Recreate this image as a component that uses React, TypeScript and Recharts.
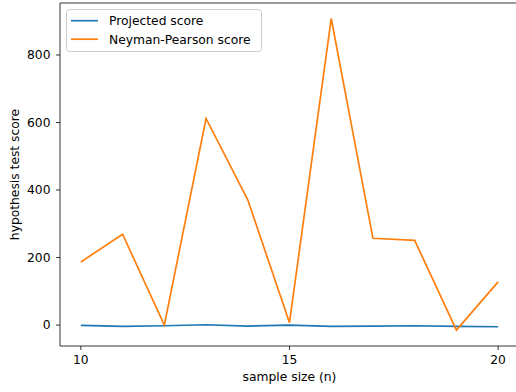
import React from 'react';
import { LineChart, Line, XAxis, YAxis, Legend, ReferenceArea, Label } from 'recharts';

const sampleSizes = [10, 11, 12, 13, 14, 15, 16, 17, 18, 19, 20];
const projectedScore = [-1, -4, -2, 1, -3, 0, -4, -3, -2, -4, -5];
const neymanPearsonScore = [187, 269, 0, 612, 371, 7, 908, 257, 251, -15, 128];
const xTicks = [10, 15, 20];
const yTicks = [0, 200, 400, 600, 800];
const xDomain: [number, number] = [9.5, 20.5];
const yDomain: [number, number] = [-62, 954];

const data = sampleSizes.map((n, i) => ({
  n,
  projected: projectedScore[i],
  neyman: neymanPearsonScore[i],
}));

const FONT = '"DejaVu Sans", sans-serif';
const FS = 12.3;
const BLUE = '#1f77b4';
const ORANGE = '#ff7f0e';

const legendItems = [
  { name: 'Projected score', color: BLUE },
  { name: 'Neyman-Pearson score', color: ORANGE },
];

const LegendBox = () => (
  <svg width={196} height={43} style={{ display: 'block' }}>
    <rect x={0.5} y={0.5} width={195} height={42} rx={3} ry={3} fill="rgba(255,255,255,0.8)" stroke="#cccccc" strokeWidth={1} />
    {legendItems.map((it, i) => {
      const cy = 11.7 + i * 18.5;
      return (
        <g key={it.name}>
          <line x1={5} x2={32} y1={cy} y2={cy} stroke={it.color} strokeWidth={1.7} />
          <text x={43} y={cy} dy="0.36em" fontFamily={FONT} fontSize={FS} fill="#000">
            {it.name}
          </text>
        </g>
      );
    })}
  </svg>
);

export default function App() {
  return (
    <div style={{ position: 'fixed', left: 0, top: 0, width: 516, height: 392, overflow: 'hidden', background: '#fff' }}>
      <LineChart
        width={520}
        height={392}
        data={data}
        margin={{ top: 3, right: 1, bottom: 0, left: 0 }}
        style={{ fontFamily: FONT }}
      >
        <XAxis
          dataKey="n"
          type="number"
          domain={xDomain}
          ticks={xTicks}
          height={46}
          axisLine={false}
          tickLine={{ stroke: '#000', strokeWidth: 0.8 }}
          tickSize={4}
          tickMargin={5}
          tick={{ fill: '#000', fontSize: FS, fontFamily: FONT }}
          allowDataOverflow
        >
          <Label
            content={(props: any) => {
              const vb = props.viewBox || { x: 60, y: 346, width: 459, height: 46 };
              return (
                <text x={vb.x + vb.width / 2} y={vb.y + 35} textAnchor="middle" fontFamily={FONT} fontSize={FS} fill="#000">
                  sample size (n)
                </text>
              );
            }}
          />
        </XAxis>
        <YAxis
          type="number"
          domain={yDomain}
          ticks={yTicks}
          width={60}
          axisLine={false}
          tickLine={{ stroke: '#000', strokeWidth: 0.8 }}
          tickSize={4}
          tickMargin={5.5}
          tick={{ fill: '#000', fontSize: FS, fontFamily: FONT }}
          allowDataOverflow
        >
          <Label
            content={(props: any) => {
              const vb = props.viewBox || { x: 0, y: 3, width: 60, height: 343 };
              const cx = vb.x + 14.5;
              const cy = vb.y + vb.height / 2;
              return (
                <text
                  x={cx}
                  y={cy}
                  transform={`rotate(-90 ${cx} ${cy})`}
                  textAnchor="middle"
                  dominantBaseline="central"
                  fontFamily={FONT}
                  fontSize={FS}
                  fill="#000"
                >
                  hypothesis test score
                </text>
              );
            }}
          />
        </YAxis>
        <ReferenceArea
          x1={xDomain[0]}
          x2={xDomain[1]}
          y1={yDomain[0]}
          y2={yDomain[1]}
          fill="none"
          fillOpacity={0}
          stroke="#000"
          strokeWidth={0.8}
          ifOverflow="visible"
        />
        <Line type="linear" dataKey="projected" stroke={BLUE} strokeWidth={1.7} dot={false} isAnimationActive={false} />
        <Line type="linear" dataKey="neyman" stroke={ORANGE} strokeWidth={1.7} dot={false} isAnimationActive={false} />
        <Legend
          layout="vertical"
          align="center"
          verticalAlign="middle"
          content={() => <LegendBox />}
          wrapperStyle={{ position: 'absolute', left: 66, top: 9, width: 196, height: 43 }}
        />
      </LineChart>
    </div>
  );
}
